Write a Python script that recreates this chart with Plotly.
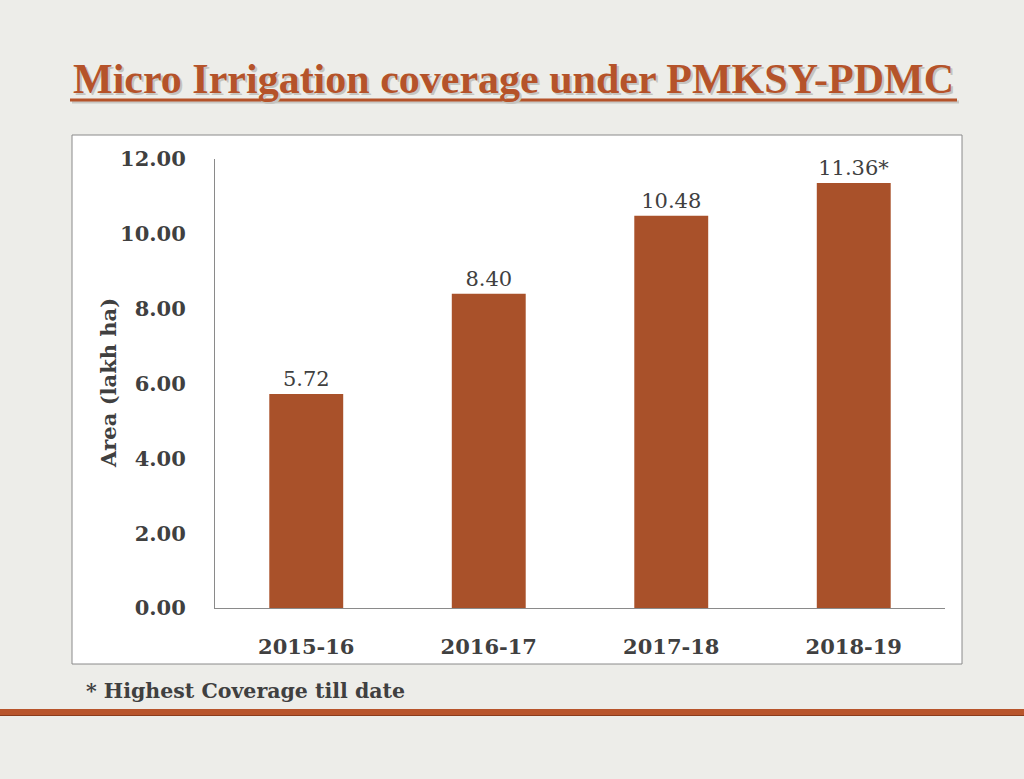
import plotly.graph_objects as go

categories = ["2015-16", "2016-17", "2017-18", "2018-19"]
values = [5.72, 8.40, 10.48, 11.36]
value_labels = ["5.72", "8.40", "10.48", "11.36*"]
y_ticks = [0, 2, 4, 6, 8, 10, 12]
y_ticktext = ["0.00", "2.00", "4.00", "6.00", "8.00", "10.00", "12.00"]

TXT = "#404040"
BAR = "#A9512A"
TITLE_C = "#B5532A"
SERIF = "DejaVu Serif, serif"
TSERIF = "Liberation Serif, serif"

fig = go.Figure()
fig.add_trace(go.Bar(
    x=categories, y=values, text=value_labels, textposition="outside",
    textfont=dict(family=SERIF, size=21, color=TXT),
    marker=dict(color=BAR, line=dict(width=0)), width=0.405,
    cliponaxis=False, hoverinfo="skip",
))

W, H = 1024, 779
L, R, T, B = 215, 945, 159, 608
def px(x): return (x - L) / (R - L)
def py(y): return (B - y) / (B - T)

title = "Micro Irrigation coverage under PMKSY-PDMC"

fig.update_layout(
    width=W, height=H,
    margin=dict(l=L, r=W - R, t=T, b=H - B, pad=0),
    paper_bgcolor="#EDEDE9", plot_bgcolor="white",
    showlegend=False,
    xaxis=dict(showgrid=False, showline=True, linecolor="#8a8a8a", linewidth=1,
               ticks="outside", ticklen=20, tickcolor="rgba(0,0,0,0)",
               tickfont=dict(family=SERIF, size=21, color=TXT, weight="bold"),
               fixedrange=True),
    yaxis=dict(range=[0, 12], showgrid=False, showline=True, linecolor="#8a8a8a",
               linewidth=1, tickvals=y_ticks, ticktext=y_ticktext,
               ticks="outside", ticklen=24, tickcolor="rgba(0,0,0,0)",
               tickfont=dict(family=SERIF, size=21, color=TXT, weight="bold"),
               zeroline=False, fixedrange=True),
    shapes=[
        dict(type="rect", xref="paper", yref="paper", layer="below",
             x0=px(72), x1=px(962), y0=py(664), y1=py(135),
             fillcolor="white", line=dict(color="#8a8a8a", width=1)),
        dict(type="line", xref="paper", yref="paper",
             x0=px(72), x1=px(959), y0=py(102), y1=py(102),
             line=dict(color="#c8c8c4", width=3)),
        dict(type="line", xref="paper", yref="paper",
             x0=px(70), x1=px(957), y0=py(100), y1=py(100),
             line=dict(color=TITLE_C, width=3)),
        dict(type="line", xref="paper", yref="paper",
             x0=px(0), x1=px(1024), y0=py(715), y1=py(715),
             line=dict(color="#8a3c1c", width=2)),
        dict(type="line", xref="paper", yref="paper",
             x0=px(0), x1=px(1024), y0=py(712), y1=py(712),
             line=dict(color="#B8552C", width=6)),
    ],
    annotations=[
        dict(text=title, xref="paper", yref="paper",
             x=px(515), y=py(81), xanchor="center", yanchor="middle", showarrow=False,
             font=dict(family=TSERIF, size=42, color="#c4c4c0", weight="bold")),
        dict(text=title, xref="paper", yref="paper",
             x=px(513), y=py(79), xanchor="center", yanchor="middle", showarrow=False,
             font=dict(family=TSERIF, size=42, color=TITLE_C, weight="bold")),
        dict(text="Area (lakh ha)", xref="paper", yref="paper", textangle=-90,
             x=px(108), y=py(383), xanchor="center", yanchor="middle", showarrow=False,
             font=dict(family=SERIF, size=21, color=TXT, weight="bold")),
        dict(text="* Highest Coverage till date", xref="paper", yref="paper",
             x=px(84), y=py(691), xanchor="left", yanchor="middle", showarrow=False,
             font=dict(family=SERIF, size=20.5, color=TXT, weight="bold")),
    ],
)

fig.write_html("out.html", config={"displayModeBar": False},
               post_script="document.body.style.margin='0';")
